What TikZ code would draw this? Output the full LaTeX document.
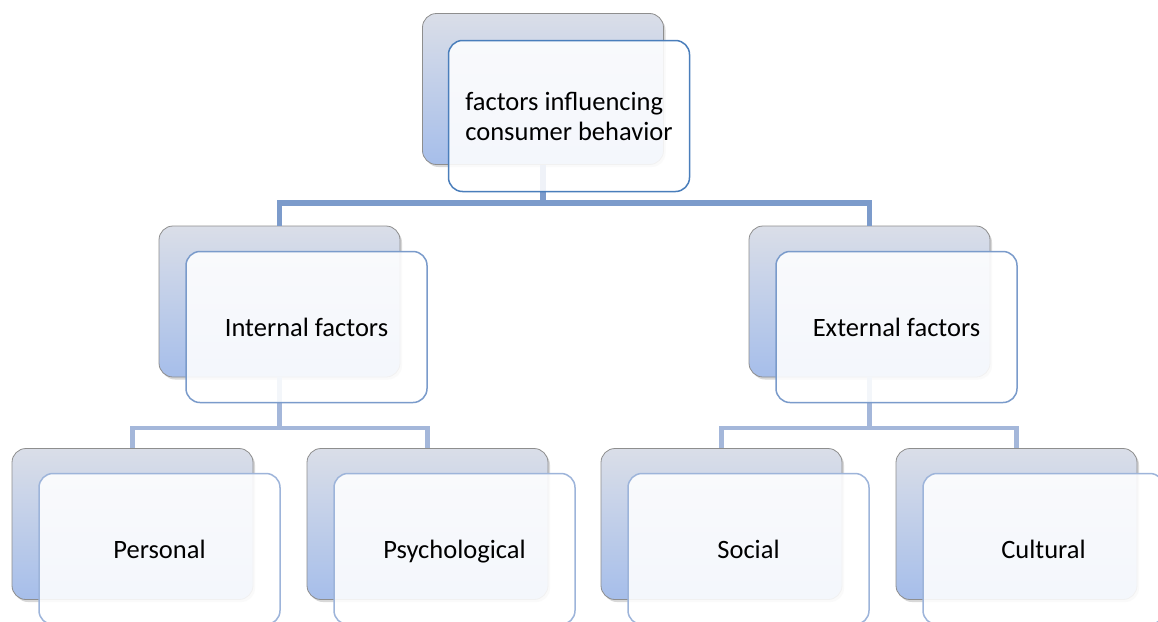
\documentclass[tikz,border=0pt]{standalone}
\usepackage{fontspec}
\setmainfont{Carlito}
\usetikzlibrary{shadows}
\definecolor{backtop}{HTML}{DADEE8}
\definecolor{backbot}{HTML}{A6BEEA}
\definecolor{backline}{HTML}{8E8E8E}
\definecolor{edgeA}{HTML}{4A7EBB}
\definecolor{edgeB}{HTML}{7A9BCB}
\definecolor{edgeC}{HTML}{9DB4DA}
\definecolor{linkA}{HTML}{7C9BCB}
\definecolor{linkB}{HTML}{A4B7DA}
\tikzset{
  backbox/.style={rectangle, rounded corners=14pt, minimum width=241pt,
    minimum height=151pt, draw=backline, line width=0.8pt,
    top color=backtop, bottom color=backbot,
    drop shadow={opacity=0.3, shadow xshift=2pt, shadow yshift=-2.5pt}},
  frontbox/.style={rectangle, rounded corners=14pt, minimum width=241pt,
    minimum height=151pt, draw=#1, line width=1.5pt, fill=white,
    fill opacity=0.88, text opacity=1, align=left, text=black,
    font=\fontsize{26.5}{30}\selectfont, text depth=0pt},
  linkmain/.style={draw=linkA, line width=5.5pt},
  linksub/.style={draw=linkB, line width=4.5pt},
}
\begin{document}
\begin{tikzpicture}[x=1pt, y=-1pt]
\useasboundingbox (0,0) rectangle (1158,621);
\clip (0,0) rectangle (1158,621);
\fill[white] (0,0) rectangle (1158,621);

% junction points of the connector trees
\coordinate (j0) at (543,203);
\coordinate (j1) at (279.5,428);
\coordinate (j2) at (869.5,428);

% back plates
\node[backbox] (top) at (543,89) {};
\node[backbox] (intb) at (279.5,301.5) {};
\node[backbox] (extb) at (869.5,301.5) {};
\node[backbox] (perb) at (132.5,524) {};
\node[backbox] (psyb) at (427.5,524) {};
\node[backbox] (socb) at (721.5,524) {};
\node[backbox] (culb) at (1016.5,524) {};

% connectors, drawn before the front cards so they sit behind them
\draw[linkmain] (top.south) -- (j0);
\draw[linkmain] (j0) -| (intb.north);
\draw[linkmain] (j0) -| (extb.north);
\draw[linksub] (intb.south) -- (j1);
\draw[linksub] (j1) -| (perb.north);
\draw[linksub] (j1) -| (psyb.north);
\draw[linksub] (extb.south) -- (j2);
\draw[linksub] (j2) -| (socb.north);
\draw[linksub] (j2) -| (culb.north);

% front cards with labels
\node[frontbox=edgeA] (topf) at (569,116) {factors influencing\\consumer behavior};
\node[frontbox=edgeB] (intf) at (306.5,327) {Internal factors};
\node[frontbox=edgeB] (extf) at (896.5,327) {External factors};
\node[frontbox=edgeC] (perf) at (159.5,549) {Personal};
\node[frontbox=edgeC] (psyf) at (454.5,549) {Psychological};
\node[frontbox=edgeC] (socf) at (748.5,549) {Social};
\node[frontbox=edgeC] (culf) at (1043.5,549) {Cultural};
\end{tikzpicture}
\end{document}
